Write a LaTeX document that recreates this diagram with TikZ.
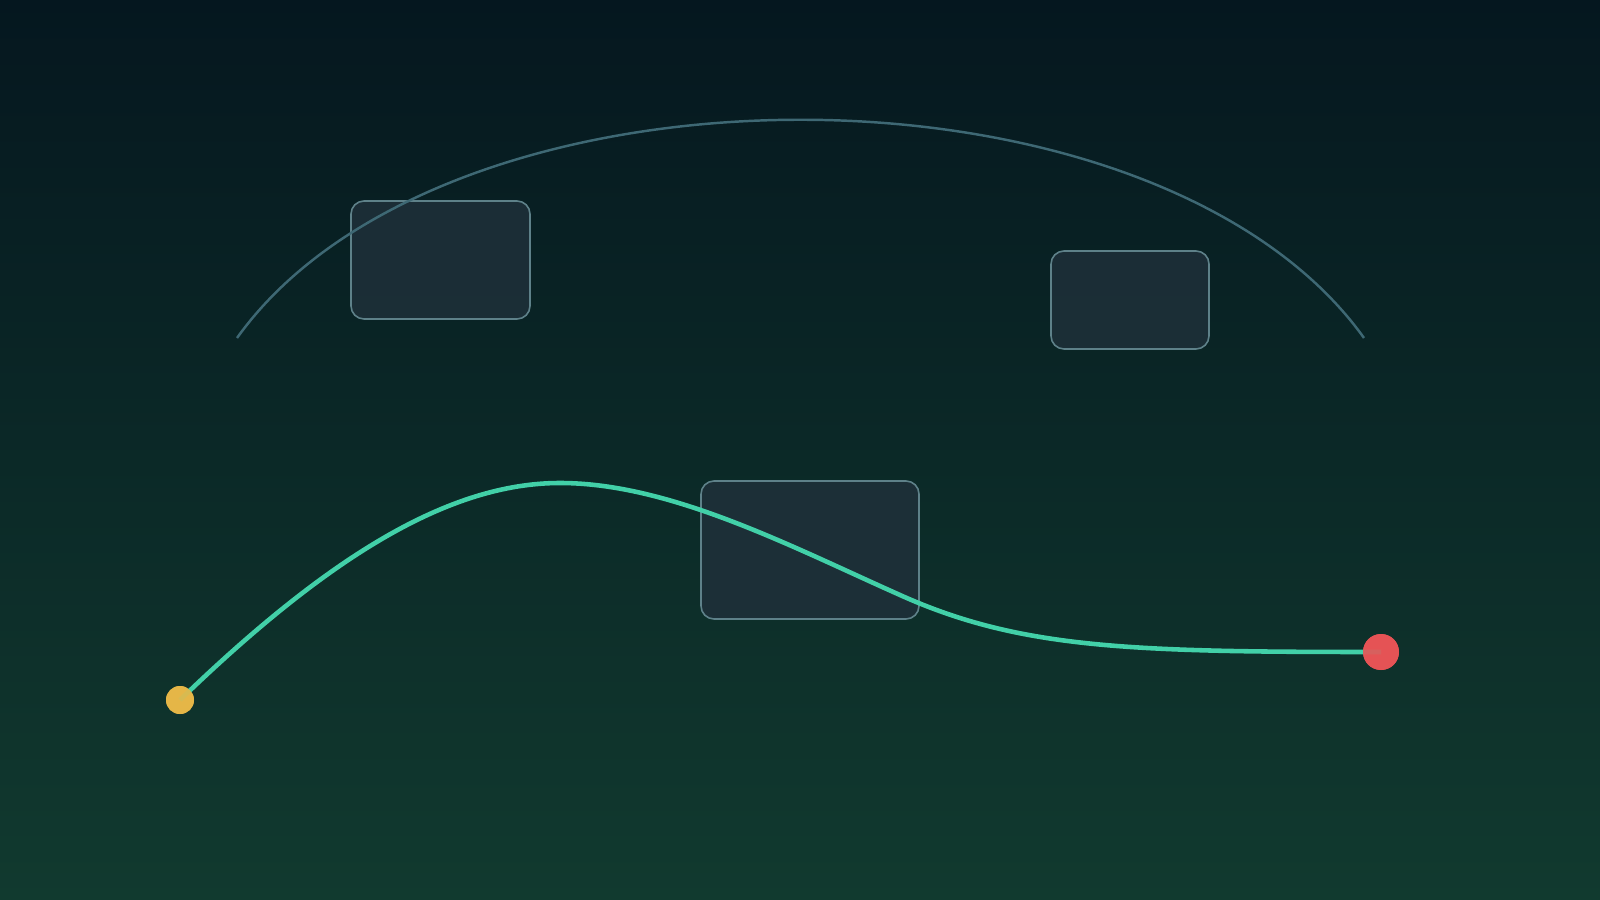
\documentclass[tikz,border=0pt]{standalone}
\usetikzlibrary{positioning}
\definecolor{bgtop}{HTML}{05171F}
\definecolor{bgbot}{HTML}{113A2F}
\definecolor{boxfill}{HTML}{1F303A}
\definecolor{boxline}{HTML}{5E8189}
\definecolor{arcline}{HTML}{3E6874}
\definecolor{pathline}{HTML}{42D0A8}
\definecolor{startdot}{HTML}{E8B848}
\definecolor{enddot}{HTML}{E85456}
\begin{document}
\begin{tikzpicture}[x=0.1mm, y=-0.1mm,
        panel/.style={draw=boxline, line width=0.45pt, fill=boxfill, fill opacity=0.85,
            rounded corners=1.3mm, inner sep=0pt},
        dot/.style={circle, inner sep=0pt, fill opacity=0.9}]
    \shade[top color=bgtop, bottom color=bgbot] (0, 0) rectangle (1600, 900);
    \useasboundingbox (0, 0) rectangle (1600, 900);
    % panels
    \node[panel, minimum width=17.9mm, minimum height=11.8mm] (left) at (440.5, 260) {};
    \node[panel, minimum width=15.8mm, minimum height=9.8mm] (right) at (1130, 300) {};
    \node[panel, minimum width=21.8mm, minimum height=13.8mm] (mid) at (810, 550) {};
    % arc over the top
    \coordinate (arca) at (237, 338);
    \coordinate (arcb) at (1364, 338);
    \draw[arcline, line width=0.7pt] (arca) .. controls (445, 47) and (1156, 47) .. (arcb);
    % the path
    \node[dot, fill=startdot, minimum size=2.8mm] (start) at (180, 700) {};
    \node[dot, fill=enddot, minimum size=3.6mm] (end) at (1381, 652) {};
    \coordinate (top) at (560, 483);
    \coordinate (turn) at (900, 595);
    \draw[pathline, line width=1.3pt] (start.center) .. controls (330, 555) and (450, 483) .. (top)
        .. controls (670, 483) and (790, 546) .. (turn)
        .. controls (1020, 649) and (1131, 652) .. (end.center);
    \node[dot, fill=startdot, minimum size=2.8mm] at (start) {};
    \node[dot, fill=enddot, minimum size=3.6mm] at (end) {};
\end{tikzpicture}
\end{document}
